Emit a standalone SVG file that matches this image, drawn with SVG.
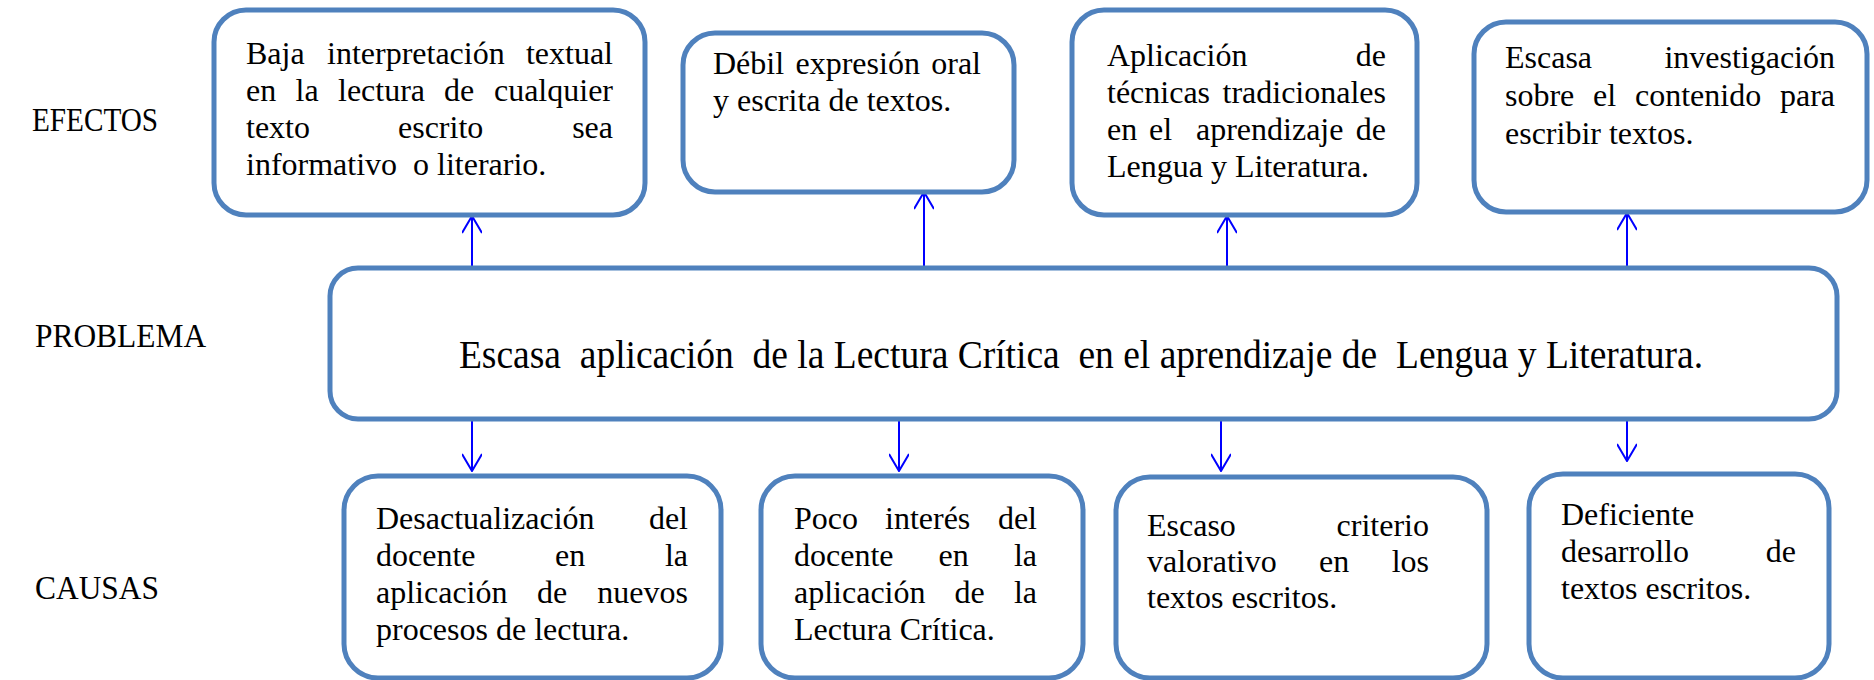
<svg xmlns="http://www.w3.org/2000/svg" width="1874" height="680" viewBox="0 0 1874 680">
<style>
.box{fill:#ffffff;stroke:#4F81BD;stroke-width:5}
.t{font-family:"Liberation Serif","Times New Roman",serif;font-size:32px;fill:#000;white-space:pre}
.lab{font-family:"Liberation Serif","Times New Roman",serif;font-size:34px;fill:#000}
.pt{font-family:"Liberation Serif","Times New Roman",serif;font-size:41px;fill:#000;white-space:pre}
.e{text-anchor:end}
.c{stroke:#0000FF;stroke-width:2;fill:none}
</style>
<defs>
<marker id="ah" viewBox="0 0 20 20" refX="19" refY="10" markerWidth="20" markerHeight="20" markerUnits="userSpaceOnUse" orient="auto">
<path d="M2,0 L19,10 L2,20" fill="none" stroke="#0000FF" stroke-width="2"/>
</marker>
</defs>
<rect width="1874" height="680" fill="#ffffff"/>
<g id="labels">
<text class="lab" transform="scale(0.86,1)" x="37.2" y="131">EFECTOS</text>
<text class="lab" transform="scale(0.925,1)" x="37.8" y="347">PROBLEMA</text>
<text class="lab" transform="scale(0.925,1)" x="37.8" y="599">CAUSAS</text>
</g>
<g id="connectors">
<line class="c" x1="472" y1="268" x2="472" y2="216" marker-end="url(#ah)"/>
<line class="c" x1="924" y1="268" x2="924" y2="192" marker-end="url(#ah)"/>
<line class="c" x1="1227" y1="268" x2="1227" y2="216" marker-end="url(#ah)"/>
<line class="c" x1="1627" y1="268" x2="1627" y2="213" marker-end="url(#ah)"/>
<line class="c" x1="472" y1="419" x2="472" y2="471" marker-end="url(#ah)"/>
<line class="c" x1="899" y1="419" x2="899" y2="471" marker-end="url(#ah)"/>
<line class="c" x1="1221" y1="419" x2="1221" y2="471" marker-end="url(#ah)"/>
<line class="c" x1="1627" y1="419" x2="1627" y2="461" marker-end="url(#ah)"/>
</g>
<g id="efecto1">
<rect class="box" x="214" y="10" width="431" height="205" rx="32"/>
<text class="t" x="246" y="64">Baja</text>
<text class="t" x="327" y="64">interpretación</text>
<text class="t e" x="613" y="64">textual</text>
<text class="t" x="246" y="101">en</text>
<text class="t" x="295.5" y="101">la</text>
<text class="t" x="338" y="101">lectura</text>
<text class="t" x="444" y="101">de</text>
<text class="t e" x="613" y="101">cualquier</text>
<text class="t" x="246" y="138">texto</text>
<text class="t" x="398" y="138">escrito</text>
<text class="t e" x="613" y="138">sea</text>
<text class="t" x="246" y="175">informativo  o literario.</text>
</g>
<g id="efecto2">
<rect class="box" x="683" y="33" width="331" height="159" rx="32"/>
<text class="t" x="713" y="74">Débil</text>
<text class="t" x="795.5" y="74">expresión</text>
<text class="t e" x="981" y="74">oral</text>
<text class="t" x="713" y="111">y escrita de textos.</text>
</g>
<g id="efecto3">
<rect class="box" x="1072" y="10" width="345" height="205" rx="32"/>
<text class="t" x="1107" y="66">Aplicación</text>
<text class="t e" x="1386" y="66">de</text>
<text class="t" x="1107" y="103">técnicas</text>
<text class="t e" x="1386" y="103">tradicionales</text>
<text class="t" x="1107" y="140">en</text>
<text class="t" x="1149" y="140">el</text>
<text class="t" x="1196" y="140">aprendizaje</text>
<text class="t e" x="1386" y="140">de</text>
<text class="t" x="1107" y="177">Lengua y Literatura.</text>
</g>
<g id="efecto4">
<rect class="box" x="1474" y="22" width="393" height="190" rx="32"/>
<text class="t" x="1505" y="68">Escasa</text>
<text class="t e" x="1835" y="68">investigación</text>
<text class="t" x="1505" y="106">sobre</text>
<text class="t" x="1593" y="106">el</text>
<text class="t" x="1635" y="106">contenido</text>
<text class="t e" x="1835" y="106">para</text>
<text class="t" x="1505" y="144">escribir textos.</text>
</g>
<g id="problema">
<rect class="box" x="330" y="268" width="1507" height="151" rx="28"/>
<text class="pt" transform="scale(0.915,1)" x="501.6" y="368">Escasa  aplicación  de la Lectura Crítica  en el aprendizaje de  Lengua y Literatura.</text>
</g>
<g id="causa1">
<rect class="box" x="344" y="476" width="377" height="202" rx="34"/>
<text class="t" x="376" y="529">Desactualización</text>
<text class="t e" x="688" y="529">del</text>
<text class="t" x="376" y="566">docente</text>
<text class="t" x="555" y="566">en</text>
<text class="t e" x="688" y="566">la</text>
<text class="t" x="376" y="603">aplicación</text>
<text class="t" x="537" y="603">de</text>
<text class="t e" x="688" y="603">nuevos</text>
<text class="t" x="376" y="640">procesos de lectura.</text>
</g>
<g id="causa2">
<rect class="box" x="761" y="476" width="322" height="202" rx="34"/>
<text class="t" x="794" y="529">Poco</text>
<text class="t" x="885" y="529">interés</text>
<text class="t e" x="1037" y="529">del</text>
<text class="t" x="794" y="566">docente</text>
<text class="t" x="938.5" y="566">en</text>
<text class="t e" x="1037" y="566">la</text>
<text class="t" x="794" y="603">aplicación</text>
<text class="t" x="954.5" y="603">de</text>
<text class="t e" x="1037" y="603">la</text>
<text class="t" x="794" y="640">Lectura Crítica.</text>
</g>
<g id="causa3">
<rect class="box" x="1116" y="477" width="371" height="201" rx="34"/>
<text class="t" x="1147" y="536">Escaso</text>
<text class="t e" x="1429" y="536">criterio</text>
<text class="t" x="1147" y="572">valorativo</text>
<text class="t" x="1319" y="572">en</text>
<text class="t e" x="1429" y="572">los</text>
<text class="t" x="1147" y="608">textos escritos.</text>
</g>
<g id="causa4">
<rect class="box" x="1529" y="474" width="300" height="204" rx="34"/>
<text class="t" x="1561" y="525">Deficiente</text>
<text class="t" x="1561" y="562">desarrollo</text>
<text class="t e" x="1796" y="562">de</text>
<text class="t" x="1561" y="599">textos escritos.</text>
</g>
</svg>
